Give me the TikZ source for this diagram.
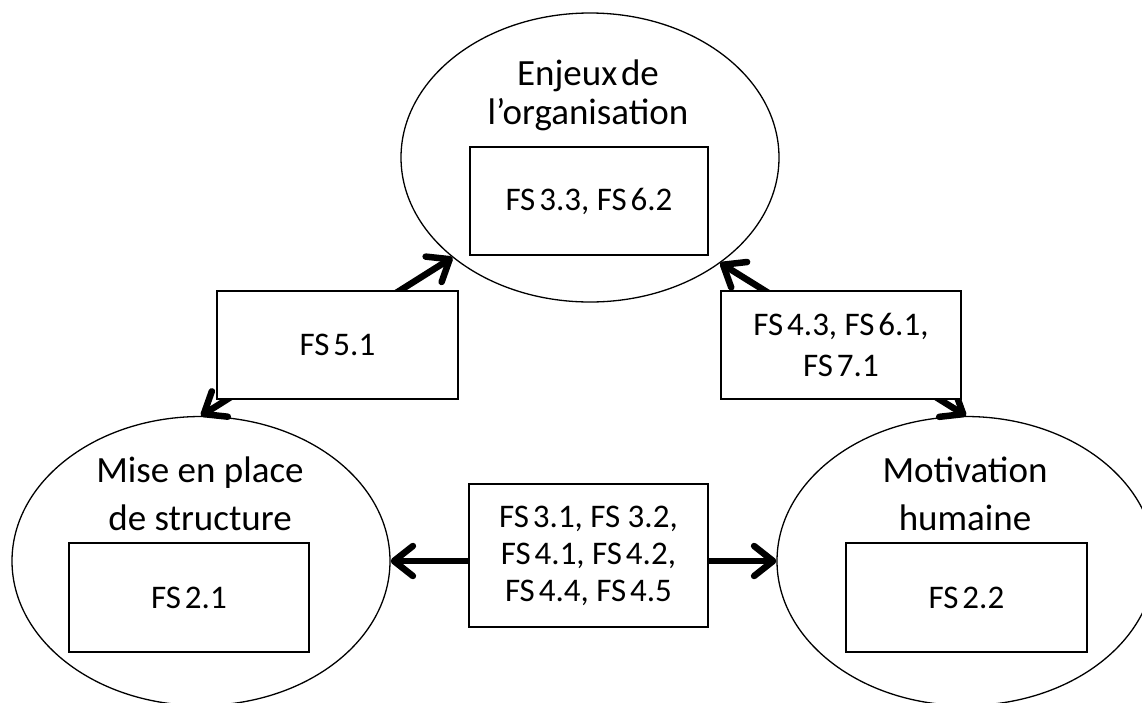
\documentclass[tikz,border=0pt]{standalone}
\usepackage{fontspec}
\setmainfont{Carlito}
\newcommand\fsnum[1]{FS\hspace{0.12em}#1}
\usetikzlibrary{shapes.geometric,arrows.meta}
\begin{document}
\begin{tikzpicture}[x=1pt,y=-1pt,
  ell/.style={draw, ellipse, line width=1.3pt, minimum width=378pt, minimum height=289pt, inner sep=0pt},
  fsbox/.style={draw, fill=white, line width=1.3pt, inner sep=0pt, align=center, font=\fontsize{33}{37}\selectfont},
  ttl/.style={anchor=base, inner sep=0pt},
  arr/.style={line width=6.5pt, {Straight Barb[length=19pt,width=30pt,round]}-{Straight Barb[length=19pt,width=30pt,round]}}
]
\useasboundingbox (0,0) rectangle (1142,702);
\clip (0,0) rectangle (1142,702);
% ellipses
\node[ell] (T) at (590,157.5) {};
\node[ell] (L) at (201,561) {};
\node[ell] (R) at (966,561) {};
% titles
\node[ttl] (tT) at (588,85) {\fontsize{37}{39}\selectfont\begin{tabular}[t]{@{}c@{}}Enjeux\hspace{0.1em}de\\l’organisation\end{tabular}};
\node[ttl] (tL) at (200,482) {\fontsize{37}{48}\selectfont\begin{tabular}[t]{@{}c@{}}Mise en place\\de structure\end{tabular}};
\node[ttl] (tR) at (965,482) {\fontsize{37}{48}\selectfont\begin{tabular}[t]{@{}c@{}}Motivation\\humaine\end{tabular}};
% connectors
\draw[arr] (L.north) -- (T.216.8);
\draw[arr] (T.321.6) -- (R.north);
\draw[arr] (L.east) -- (R.west);
% boxes
\node[fsbox, minimum width=238pt, minimum height=108pt] (bT) at (589,201) {\fsnum{3.3}, \fsnum{6.2}};
\node[fsbox, minimum width=240pt, minimum height=109pt] (bL) at (189,597.5) {\fsnum{2.1}};
\node[fsbox, minimum width=241pt, minimum height=109pt] (bR) at (966.5,597.5) {\fsnum{2.2}};
\node[fsbox, minimum width=241pt, minimum height=108pt] (b51) at (337.5,345) {\fsnum{5.1}};
\node[fsbox, minimum width=240pt, minimum height=108pt, font=\fontsize{33}{41}\selectfont] (b43) at (841,345) {\fsnum{4.3}, \fsnum{6.1},\\\fsnum{7.1}};
\node[fsbox, minimum width=239pt, minimum height=143pt] (bM) at (588.5,555.5) {\fsnum{3.1}, FS 3.2,\\\fsnum{4.1}, \fsnum{4.2},\\\fsnum{4.4}, \fsnum{4.5}};
\end{tikzpicture}
\end{document}
